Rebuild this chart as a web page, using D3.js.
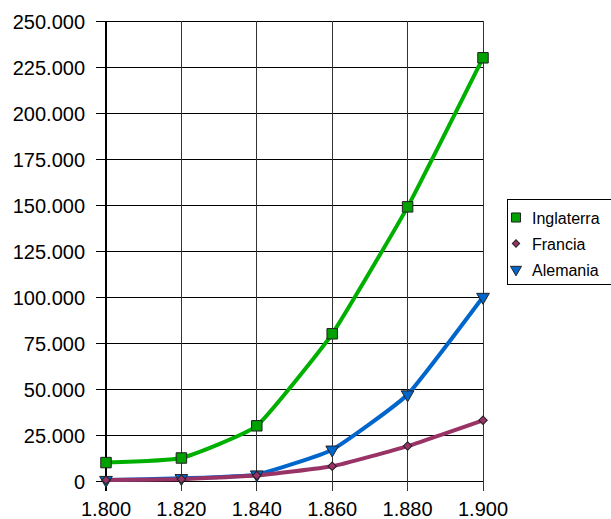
<!DOCTYPE html>
<meta charset="utf-8">
<head>
<style>
body { margin: 0; background: #fff; }
text { font-family: "Liberation Sans", Arial, sans-serif; fill: #000; }
</style>
</head>
<body>
<script src="https://d3js.org/d3.v7.min.js"></script>
<script>

// data
var years = [1800, 1820, 1840, 1860, 1880, 1900];
var inglaterra = [10000, 12500, 30000, 80000, 149000, 230000];
var francia = [500, 1000, 3000, 8000, 19000, 33000];
var alemania = [500, 1500, 3500, 17000, 47000, 100000];
var yTicks = [0, 25000, 50000, 75000, 100000, 125000, 150000, 175000, 200000, 225000, 250000];
var seriesNames = ["Inglaterra", "Francia", "Alemania"];

var series = [
  {name: "Inglaterra", values: inglaterra, color: "#00B000", fill: "#00A000", shape: d3.symbolSquare, size: 110, rot: 0},
  {name: "Francia", values: francia, color: "#993366", fill: "#993366", shape: d3.symbolSquare, size: 36, rot: 45},
  {name: "Alemania", values: alemania, color: "#0066CC", fill: "#0066CC", shape: d3.symbolTriangle, size: 70, rot: 180}
];

var svg = d3.select("body")
    .append("svg")
    .attr("width", 611)
    .attr("height", 519);

var x = d3.scaleLinear().domain([1800, 1900]).range([106, 483]);
var y = d3.scaleLinear().domain([0, 250000]).range([481, 21]);

function fmt(v) {
  return d3.format(",")(v).replace(/,/g, ".");
}

// horizontal gridlines + tick marks
svg.append("g")
   .selectAll("line")
   .data(yTicks)
   .enter()
   .append("line")
   .attr("x1", 96)
   .attr("x2", x(1900))
   .attr("y1", function(d) { return y(d); })
   .attr("y2", function(d) { return y(d); })
   .attr("stroke", "#000")
   .attr("stroke-width", 1)
   .attr("shape-rendering", "crispEdges");

// vertical gridlines
svg.append("g")
   .selectAll("line")
   .data(years)
   .enter()
   .append("line")
   .attr("x1", function(d) { return x(d); })
   .attr("x2", function(d) { return x(d); })
   .attr("y1", y(250000))
   .attr("y2", 491)
   .attr("stroke", function(d, i) { return i == 0 ? "#000" : "#333"; })
   .attr("stroke-width", function(d, i) { return i == 0 ? 2 : 1; })
   .attr("shape-rendering", "crispEdges");

// y labels
svg.append("g")
   .selectAll("text")
   .data(yTicks)
   .enter()
   .append("text")
   .attr("x", 85)
   .attr("y", function(d) { return y(d) + 8; })
   .attr("text-anchor", "end")
   .attr("font-size", "20px")
   .text(function(d) { return fmt(d); });

// x labels
svg.append("g")
   .selectAll("text")
   .data(years)
   .enter()
   .append("text")
   .attr("x", function(d) { return x(d); })
   .attr("y", 516)
   .attr("text-anchor", "middle")
   .attr("font-size", "20px")
   .text(function(d) { return fmt(d); });

var valueline = d3.line()
    .x(function(d, i) { return x(years[i]); })
    .y(function(d) { return y(d); })
    .curve(d3.curveCardinal.tension(0.6));

// draw back to front so green is on top
series.slice().reverse().forEach(function(s) {
  svg.append("path")
     .attr("d", valueline(s.values))
     .attr("fill", "none")
     .attr("stroke", s.color)
     .attr("stroke-width", 4)
     .attr("stroke-linejoin", "round");
});

series.slice().reverse().forEach(function(s) {
  svg.append("g")
     .selectAll("path")
     .data(s.values)
     .enter()
     .append("path")
     .attr("d", d3.symbol().type(s.shape).size(s.size))
     .attr("transform", function(d, i) {
        return "translate(" + x(years[i]) + "," + y(d) + ") rotate(" + s.rot + ")";
     })
     .attr("fill", s.fill)
     .attr("stroke", "#222")
     .attr("stroke-width", 1);
});

// legend
var legend = svg.append("g");
legend.append("rect")
      .attr("x", 507.5)
      .attr("y", 199.5)
      .attr("width", 110)
      .attr("height", 85)
      .attr("fill", "#fff")
      .attr("stroke", "#000")
      .attr("stroke-width", 1);

series.forEach(function(s, i) {
  var ly = 217.5 + i * 26;
  legend.append("path")
        .attr("d", d3.symbol().type(s.shape).size(s.size * 0.75))
        .attr("transform", "translate(516," + ly + ") rotate(" + s.rot + ")")
        .attr("fill", s.fill)
        .attr("stroke", "#222")
        .attr("stroke-width", 1);
  legend.append("text")
        .attr("x", 532)
        .attr("y", ly + 6)
        .attr("font-size", "16px")
        .text(seriesNames[i]);
});

</script>
</body>
